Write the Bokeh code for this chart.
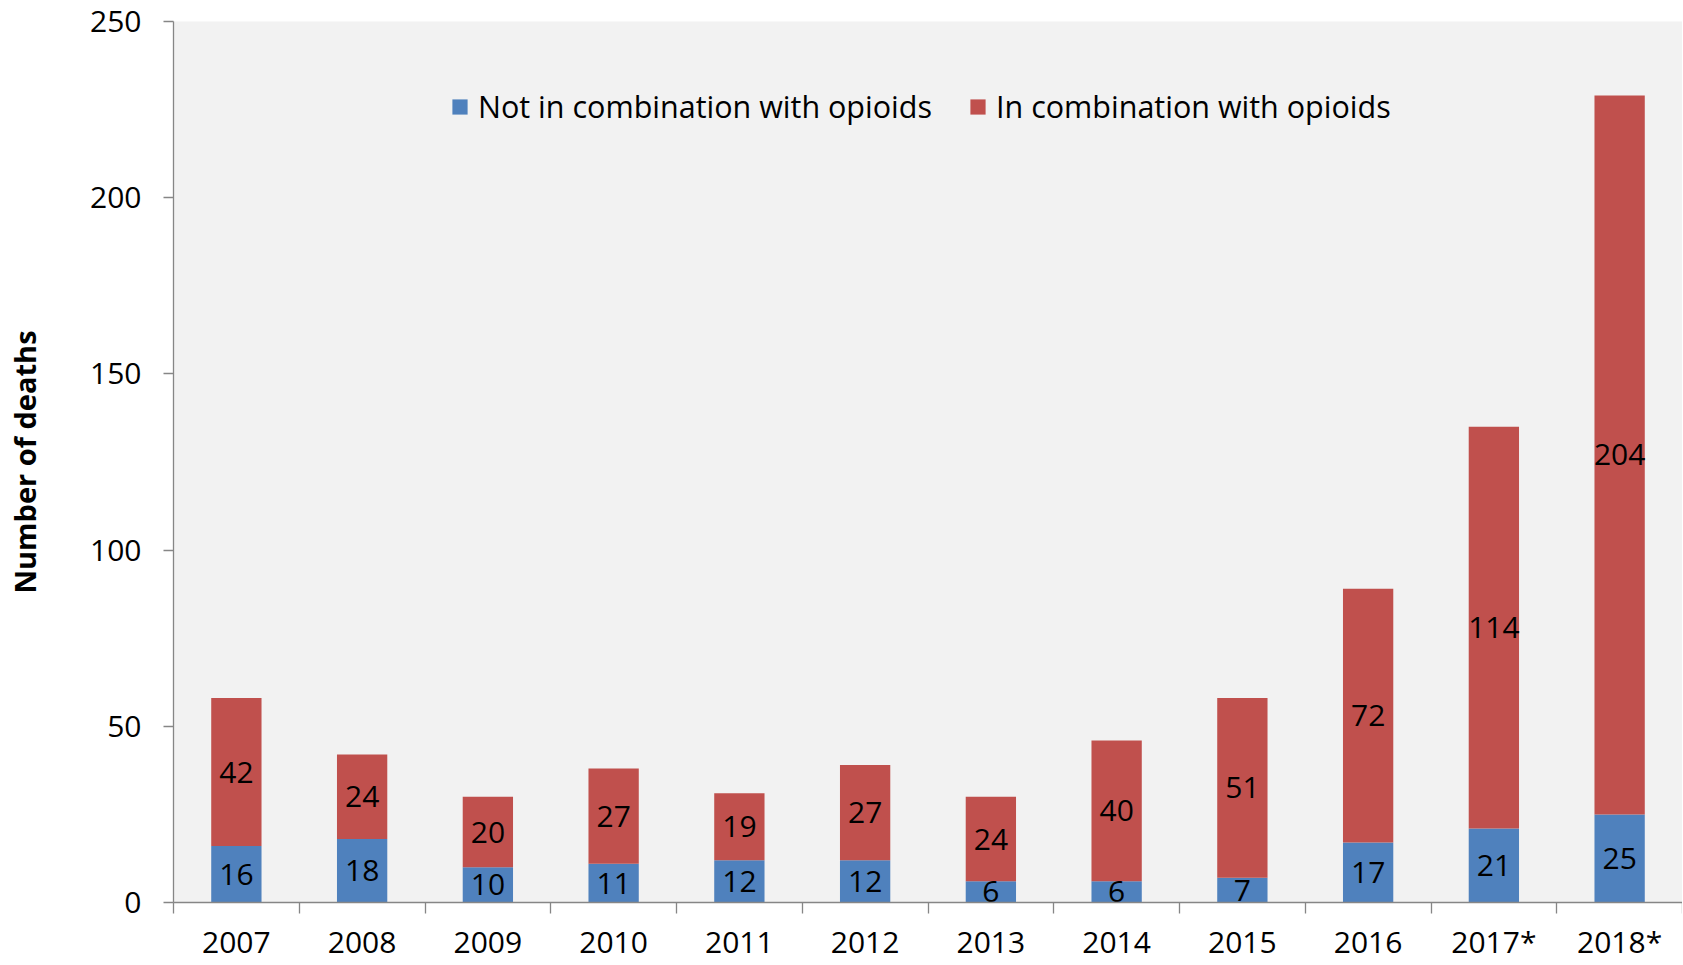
from bokeh.plotting import figure
from bokeh.models import Range1d, FixedTicker, ColumnDataSource, Legend, LegendItem
from bokeh.embed import file_html
from bokeh.resources import INLINE
from bokeh.core.properties import value

years = ["2007", "2008", "2009", "2010", "2011", "2012", "2013", "2014", "2015", "2016", "2017*", "2018*"]
not_opioid = [16, 18, 10, 11, 12, 12, 6, 6, 7, 17, 21, 25]
with_opioid = [42, 24, 20, 27, 19, 27, 24, 40, 51, 72, 114, 204]
y_ticks = [0, 50, 100, 150, 200, 250]

n = len(years)
centers = [i + 0.5 for i in range(n)]
bounds = list(range(n + 1))

src = ColumnDataSource(dict(
    x=centers,
    a=not_opioid,
    b=with_opioid,
    a_mid=[v / 2 for v in not_opioid],
    b_mid=[a + b / 2 for a, b in zip(not_opioid, with_opioid)],
    a_txt=[str(v) for v in not_opioid],
    b_txt=[str(v) for v in with_opioid],
))

FONT = "Open Sans"
BLUE = "#4F81BD"
RED = "#C0504D"
AXC = "#868686"

p = figure(width=1682, height=964, output_backend="svg", toolbar_location=None,
           x_range=Range1d(0, n), y_range=Range1d(0, 250),
           min_border_left=173, min_border_right=0, min_border_top=21, min_border_bottom=59)
p.background_fill_color = "#F2F2F2"
p.border_fill_color = "white"
p.outline_line_color = None
p.grid.visible = False

rs = p.vbar_stack(["a", "b"], x="x", width=0.4, source=src, color=[BLUE, RED], line_color=None)

p.text(x="x", y="a_mid", text="a_txt", source=src, text_align="center", text_baseline="middle",
       text_font=value(FONT), text_font_size="30px", text_color="black")
p.text(x="x", y="b_mid", text="b_txt", source=src, text_align="center", text_baseline="middle",
       text_font=value(FONT), text_font_size="30px", text_color="black")

# x axis
xa = p.xaxis[0]
xa.ticker = FixedTicker(ticks=centers, minor_ticks=bounds)
xa.major_label_overrides = {c: y for c, y in zip(centers, years)}
xa.major_tick_out = 0
xa.major_tick_in = 0
xa.minor_tick_out = 0
xa.minor_tick_in = -11
xa.minor_tick_line_color = AXC
xa.minor_tick_line_width = 1.3
xa.axis_line_color = AXC
xa.axis_line_width = 1.3
xa.major_label_text_font = FONT
xa.major_label_text_font_size = "30px"
xa.major_label_text_color = "black"
xa.major_label_standoff = 18

# y axis
ya = p.yaxis[0]
ya.ticker = FixedTicker(ticks=y_ticks)
ya.major_tick_out = 10
ya.major_tick_in = 0
ya.minor_tick_out = 0
ya.minor_tick_in = 0
ya.major_tick_line_color = AXC
ya.major_tick_line_width = 1.3
ya.axis_line_color = AXC
ya.axis_line_width = 1.3
ya.major_label_text_font = FONT
ya.major_label_text_font_size = "30px"
ya.major_label_text_color = "black"
ya.major_label_standoff = 22
ya.axis_label = "Number of deaths"
ya.axis_label_text_font = FONT
ya.axis_label_text_font_size = "29px"
ya.axis_label_text_font_style = "bold"
ya.axis_label_text_color = "black"
ya.axis_label_standoff = 43

legend = Legend(items=[LegendItem(label="Not in combination with opioids", renderers=[rs[0]]),
                       LegendItem(label="In combination with opioids", renderers=[rs[1]])],
                orientation="horizontal", location=(277, 775))
legend.background_fill_alpha = 0
legend.border_line_alpha = 0
legend.label_text_font = FONT
legend.label_text_font_size = "30.5px"
legend.label_text_color = "black"
legend.glyph_width = 19
legend.glyph_height = 19
legend.label_standoff = 9
legend.spacing = 36
legend.padding = 0
legend.margin = 0
p.add_layout(legend)

open("out.html", "w").write(file_html(p, INLINE))
